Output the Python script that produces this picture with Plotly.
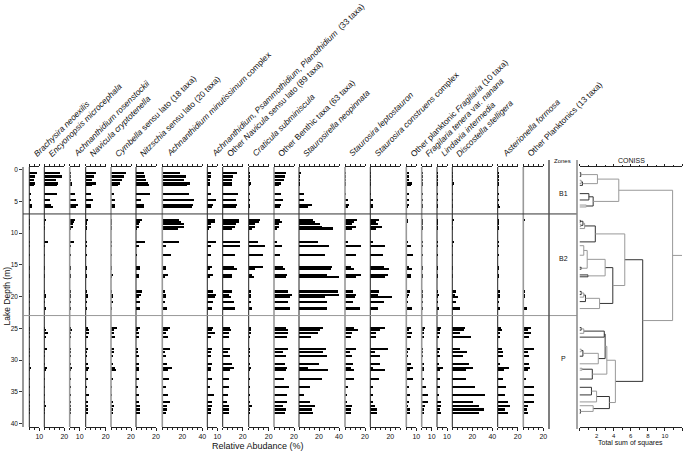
import plotly.graph_objects as go

W, H = 685, 452

# sample depths (m)
depths = [0.5, 1.1, 1.7, 2.2, 2.5, 3.8, 4.8, 5.6, 5.9,
          8.0, 8.3, 8.6, 9.0, 9.3, 11.4, 12.0, 13.5, 15.4, 15.7, 16.6, 16.9,
          19.2, 19.7, 20.1, 20.8, 21.9,
          24.9, 25.3, 25.8, 26.4, 28.3, 28.7, 29.4, 30.6, 31.3, 31.6, 33.0,
          34.3, 35.5, 36.6, 37.2, 37.8, 38.4]

# relative abundance (%) per taxon, same order as depths
brachysira = [8, 6, 4.5, 5.5, 5, 2, 1.5, 3, 2.5,
              0.5, 0.3, 0.3, 0.3, 0.3, 1, 0.3, 0.3, 0.3, 0.3, 0.3, 0.3, 0.5, 0.8, 0.5, 0.3, 0.5,
              0.5, 0.8, 0.3, 0.5, 0.3, 0.3, 0.3, 0.5, 1.5, 0.8, 0.3, 0.3, 0.3, 0.3, 0.3, 0.3, 0.8]
encyonopsis = [15.5, 18, 12, 14, 13, 12.5, 5.5, 7, 9,
               1.5, 1, 0.5, 1, 0.5, 3.5, 0.5, 0.5, 0.5, 0.5, 0.5, 0.5, 1, 2, 2, 1, 2,
               1, 2, 3.5, 1.5, 3, 1, 1, 1, 2.5, 1.5, 1, 1, 1, 1, 1.5, 1, 1]
ach_rosen = [1, 0.5, 0.5, 2, 1.5, 5, 6, 7.5, 6,
             5, 4, 3, 3, 1, 4, 1, 0.5, 0.8, 0.5, 0.5, 0.5, 0.5, 1, 1, 0.5, 0.5,
             1, 1.5, 0.5, 0.5, 0.5, 0.5, 0.5, 0.5, 2, 1, 0.5, 0.5, 0.5, 0.5, 0.5, 0.5, 0.5]
nav_crypto = [9.5, 7.5, 6, 10, 6, 5, 7, 5, 4.5,
              1.7, 1, 0.5, 0.5, 0.3, 1, 0.5, 0.3, 1, 0.5, 0.5, 0.5, 1, 1.5, 2.3, 1, 1,
              1.5, 2.7, 3, 1.5, 1.5, 1, 1, 1.5, 3, 2, 1.5, 1, 2.5, 1.5, 1.5, 2, 1.5]
cymbella = [15, 13, 11, 8.5, 7, 3, 4.3, 4.3, 3.5,
            1, 0.5, 1, 0.5, 0.3, 0.5, 0.3, 0.3, 1, 0.5, 1.5, 1, 1, 2, 2, 1.5, 1,
            5.5, 3, 3, 4, 3, 2.5, 2, 2, 4, 4.5, 2.3, 1, 1, 2.3, 3, 2.3, 2.3]
nitzschia = [7.5, 8.5, 9.5, 12, 12.5, 14, 5, 7.5, 8,
             5.7, 4, 3, 3.3, 1, 9, 2.7, 1, 4, 4, 3.3, 2.5, 5.7, 5, 3.3, 4, 4,
             4, 2.3, 3, 3.3, 2.3, 2, 3, 3, 3.3, 2.5, 3.3, 2.3, 3.3, 3.3, 4, 4, 4]
ach_minut = [17.7, 23.7, 22, 28, 25, 26.7, 32, 31, 30,
             17, 19.3, 22, 22, 16, 16.7, 4.3, 8.7, 3.7, 3.7, 6, 2.7, 2.7, 4.3, 4.3, 2.7, 5.3,
             7.7, 6, 4.3, 6, 7.7, 3, 4.3, 5.3, 10.3, 6, 7, 3.7, 6, 7.7, 5.3, 5, 3.7]
ach_psammo = [3.5, 4, 3, 3, 2.5, 4.3, 8.5, 5.5, 4.5,
              8.3, 7.5, 4.3, 3.7, 2, 9.3, 4.3, 4.3, 5, 2.7, 6, 2.7, 6, 9.3, 7.7, 6, 5,
              6, 4.5, 7.5, 4, 5, 3.5, 4.3, 4.5, 4, 4, 5, 2.7, 6.7, 4.5, 4.5, 4, 4]
other_navicula = [14, 10, 8.5, 9, 8.5, 15, 13, 14, 13,
                  16.3, 15.7, 13.3, 11.7, 9, 17.3, 17.3, 12.3, 10.7, 14, 9, 9, 9, 6.3, 8.3, 11, 11.7,
                  7.3, 8.3, 6.3, 6, 7.3, 5, 7.3, 9, 11.3, 7.3, 6.3, 5.7, 5, 4, 5.7, 6.3, 6.3]
craticula = [0.3, 0.3, 0.3, 2.3, 0.3, 0.5, 0.3, 0.3, 0.5,
             11.3, 10.3, 6.3, 6, 3, 8.7, 16.3, 14, 14, 6.3, 3, 4.5, 2.3, 1.5, 1.7, 1.3, 3,
             1.3, 2, 1.3, 0.8, 0.7, 0.5, 0.5, 0.5, 2, 1, 0.5, 0.5, 0.5, 0.5, 3, 0.5, 0.5]
other_benthic = [12, 10.5, 10, 7, 5, 7, 9.3, 7, 6,
                 6, 7.7, 5, 4.5, 3, 2.7, 7.7, 6, 9.3, 11, 12.7, 11.7, 13.7, 17.7, 16, 14.3, 16,
                 12, 13.7, 14.3, 13, 14.3, 9, 12, 11, 13.3, 12, 10.3, 15.3, 13.3, 13.3, 9.3, 11.7, 11]
staurosirella = [2, 1, 0.7, 1, 0.7, 5.3, 5.3, 12.7, 9.3,
                 14, 16, 21, 23, 34, 19.3, 30, 26, 32.7, 32, 28, 40, 39.3, 40, 26, 27.7, 28.3,
                 24, 21, 19, 11.7, 27, 24, 28, 20, 9.3, 29, 22.7, 11, 5.3, 11, 15.5, 12.5, 13.5]
s_leptostauron = [0.3, 0.3, 0.3, 0.3, 0.3, 1, 3.3, 4, 3,
                  11.7, 9.3, 6.7, 11, 7.3, 3.3, 16, 10.7, 6, 9.3, 16, 11, 7.7, 11, 10, 8.3, 15,
                  9, 13, 6.7, 6, 11, 5, 6.7, 7.7, 6, 9, 8.7, 3.3, 1.3, 2.3, 6.7, 6, 6]
s_construens = [0.5, 0.5, 0.5, 1, 0.5, 1, 2.7, 3.3, 2.5,
                8.7, 6, 7.7, 11.7, 6, 2.7, 15, 13.3, 14.3, 19.3, 18.3, 15, 9.3, 7.7, 22, 13.7, 7.7,
                15, 10.3, 6, 6, 17.7, 5.3, 10.3, 10.3, 3.3, 15, 9.3, 3.3, 3.3, 3.3, 5, 7, 7]
other_fragilaria = [2.5, 3, 2.5, 6, 4.5, 2.5, 3, 2.5, 2,
                    1.7, 1.3, 0.8, 0.8, 0.5, 1.7, 5, 7.3, 3.3, 6, 5, 4.5, 4.3, 3.3, 2.3, 2.3, 6,
                    5, 3.3, 6, 5, 4, 2.3, 1.7, 5, 6.7, 4.3, 7.3, 3.3, 4, 3.3, 2.3, 4, 4]
f_tenera = [0.3, 0.3, 0.3, 0.3, 0.3, 0.3, 0.3, 0.3, 0.3,
            0.2, 0.2, 0.2, 0.2, 0.2, 0.2, 0.2, 0.2, 0.2, 0.2, 0.3, 0.8, 0.3, 0.3, 0.3, 0.3, 0.5,
            3.3, 1.5, 1.7, 1.5, 1, 0.8, 1, 1.7, 1.3, 1.5, 2, 3.5, 5.7, 6, 2.5, 1.5, 1.7]
lindavia = [0.3, 0.3, 0.3, 0.3, 0.3, 0.3, 0.3, 0.3, 0.3,
            0.2, 0.2, 0.2, 0.2, 0.2, 0.2, 0.2, 0.2, 0.5, 0.2, 0.2, 0.2, 1, 1.5, 1, 0.5, 2,
            4.3, 3.3, 3.3, 2, 3.3, 1.5, 2.7, 1.7, 6, 3.3, 3.3, 2.7, 1.7, 4.3, 4.3, 3.3, 4.3]
discostella = [0.7, 0.3, 0.3, 1.3, 0.7, 0.3, 0.3, 0.7, 0.3,
               2, 0.7, 0.3, 0.3, 0.3, 2, 0.7, 0.3, 1, 0.3, 0.3, 0.3, 4.3, 3.3, 6, 4.3, 8.3,
               12.7, 11.7, 7.7, 18.7, 8.3, 15.3, 11, 16.7, 21, 14.3, 13.7, 22.7, 32.7, 21, 26.7, 31.7, 26.7]
asterionella = [0.3, 0.3, 0.3, 0.3, 0.3, 0.3, 0.3, 0.3, 1.3,
                0.3, 0.3, 0.3, 0.3, 0.3, 0.3, 0.3, 0.3, 0.3, 0.3, 0.5, 0.3, 1.7, 1.3, 1.7, 1, 2.3,
                3.3, 4, 2.3, 2, 4, 5, 4.7, 1.3, 10.7, 5.7, 4.7, 8.3, 6.7, 10, 12.3, 7.3, 9.7]
other_planktonics = [0.2, 0.2, 0.2, 0.2, 0.2, 0.2, 0.2, 0.2, 0.7,
                     2.3, 0.2, 0.2, 0.2, 0.2, 0.2, 0.2, 0.2, 0.2, 0.2, 0.2, 0.2, 1.7, 2.3, 1.7, 1, 4.3,
                     8.3, 5, 7.7, 6, 10.7, 5, 6, 6, 6.7, 5, 2.7, 10.7, 11, 11, 5, 4, 5]

taxa_names = [
    "<i>Brachysira neoexilis</i>",
    "<i>Encyonopsis microcephala</i>",
    "<i>Achnanthidium rosenstockii</i>",
    "<i>Navicula cryptotenella</i>",
    "<i>Cymbella</i> sensu lato (18 taxa)",
    "<i>Nitzschia</i> sensu lato (20 taxa)",
    "<i>Achnanthidium minutissimum</i> complex",
    "<i>Achnanthidium, Psammothidium, Planothidium</i>  (33 taxa)",
    "Other <i>Navicula</i> sensu lato (89 taxa)",
    "<i>Craticula subminiscula</i>",
    "Other Benthic taxa (63 taxa)",
    "<i>Staurosirella neopinnata</i>",
    "<i>Staurosira leptostauron</i>",
    "<i>Staurosira construens</i> complex",
    "Other planktonic <i>Fragilaria</i> (10 taxa)",
    "<i>Fragilaria tenera</i> var. <i>nanana</i>",
    "<i>Lindavia intermedia</i>",
    "<i>Discostella stelligera</i>",
    "<i>Asterionella formosa</i>",
    "Other Planktonics (13 taxa)",
]
taxa_values = [brachysira, encyonopsis, ach_rosen, nav_crypto, cymbella, nitzschia,
               ach_minut, ach_psammo, other_navicula, craticula, other_benthic,
               staurosirella, s_leptostauron, s_construens, other_fragilaria,
               f_tenera, lindavia, discostella, asterionella, other_planktonics]
axis_max = [10, 20, 10, 20, 20, 20, 40, 10, 20, 20, 20, 40, 20, 30, 10, 10, 10, 40, 20, 20]

# zones
zone_bounds = [7.0, 23.0]
zone_labels = ["B1", "B2", "P"]
zone_label_depths = [3.75, 13.95, 29.8]

# CONISS (constrained clustering) merges: leaves 0..n-1, new clusters n, n+1, ...
merge_left = [0, 2, 44, 43, 5, 7, 47, 46,
              9, 11, 51, 53, 54,
              15, 17, 56, 19, 58,
              21, 61, 62, 63, 60, 55,
              26, 67, 68, 30, 70, 71, 69, 34, 74, 73,
              37, 77, 41, 40, 78, 76, 66, 50]
merge_right = [1, 3, 4, 45, 6, 8, 48, 49,
               10, 12, 52, 13, 14,
               16, 18, 57, 20, 59,
               22, 23, 24, 25, 64, 65,
               27, 28, 29, 31, 32, 33, 72, 35, 36, 75,
               38, 39, 42, 79, 80, 81, 82, 83]
merge_height = [0.15, 0.2, 0.35, 2.1, 1.1, 0.8, 1.6, 4.6,
                0.1, 0.15, 0.4, 0.6, 1.85,
                0.5, 0.2, 0.9, 1.0, 3.0,
                0.2, 0.5, 0.7, 2.35, 3.9, 5.3,
                0.2, 0.5, 2.9, 0.2, 0.4, 2.2, 3.0, 0.3, 1.5, 3.2,
                1.4, 2.0, 0.1, 1.6, 3.5, 4.2, 7.4, 10.9]

# ---- layout geometry (pixels) ----
baselines = [29.3, 44.3, 69.7, 85.7, 111.0, 136.0, 162.3, 207.3, 222.7, 248.7,
             274.0, 299.0, 345.0, 370.3, 406.3, 421.7, 437.0, 452.3, 497.7, 523.3]
base_colors = ["#222", "#222", "#999", "#222", "#999", "#222", "#999", "#222", "#222", "#222",
               "#999", "#222", "#999", "#222", "#999", "#999", "#222", "#222", "#222", "#999"]
PX_PER_PCT = 1.0
Y_TOP, Y_BOT = 167.0, 427.0
D0_PX, M_PX = 169.5, 6.35
FONT = "Liberation Sans, Arial, sans-serif"
INK = "#111"


def fx(p):
    return p / W


def fy(p):
    return 1 - p / H


depth_top = (Y_TOP - D0_PX) / M_PX
depth_bot = (Y_BOT - D0_PX) / M_PX

fig = go.Figure()
layout = dict(
    template="none",
    width=W, height=H, margin=dict(l=0, r=0, t=0, b=0, pad=0), autosize=False,
    plot_bgcolor="white", paper_bgcolor="white", showlegend=False,
    font=dict(family=FONT, color=INK, size=7),
    yaxis=dict(domain=[fy(Y_BOT), fy(Y_TOP)], range=[depth_bot, depth_top],
               anchor="free", position=fx(23), showline=True, linecolor="#999",
               linewidth=1.5, ticks="outside", ticklen=3, tickcolor="#333",
               tickvals=list(range(0, 41, 5)), tickfont=dict(size=6.5, color=INK),
               showgrid=False, zeroline=False, automargin=False),
)
shapes = []
annotations = []

for i, (name, vals, amax, x0) in enumerate(zip(taxa_names, taxa_values, axis_max, baselines)):
    k = i + 1
    xa = "x" if k == 1 else f"x{k}"
    lab = [v for v in (10, 20, 40) if v <= amax and (v == amax or v % 20 == 0)]
    fig.add_trace(go.Bar(x=vals, y=depths, orientation="h", width=0.34,
                         marker=dict(color="black", line=dict(width=0)),
                         xaxis=xa, yaxis="y", hoverinfo="x+y"))
    layout["xaxis" if k == 1 else f"xaxis{k}"] = dict(
        domain=[fx(x0), fx(x0 + amax * PX_PER_PCT)], range=[0, amax], anchor="y",
        showline=True, linecolor="#222", linewidth=1, mirror="allticks",
        ticks="outside", ticklen=2.5, tickcolor="#222", tickvals=lab,
        tickfont=dict(size=7, color=INK), showgrid=False, zeroline=False, automargin=False,
        minor=dict(tick0=0, dtick=5, ticks="outside", ticklen=2, tickcolor="#222", showgrid=False),
    )
    shapes.append(dict(type="line", xref=f"{xa} domain", yref="paper", x0=0, x1=0,
                       y0=fy(Y_BOT), y1=fy(Y_TOP),
                       line=dict(color=base_colors[i], width=1.6 if base_colors[i] == "#999" else 1)))
    annotations.append(dict(text=name, xref="paper", yref="paper", x=fx(x0 - 1), y=fy(161.5),
                            xanchor="left", yanchor="bottom", textangle=-45, showarrow=False,
                            font=dict(size=8.4, family=FONT, color=INK)))

# CONISS dendrogram
n = len(depths)
pos = {j: (0.0, d) for j, d in enumerate(depths)}
dark_x, dark_y, gray_x, gray_y = [], [], [], []
for m, (a, b, h) in enumerate(zip(merge_left, merge_right, merge_height)):
    ha, ya = pos[a]
    hb, yb = pos[b]
    tx, ty = (dark_x, dark_y) if m % 2 == 0 else (gray_x, gray_y)
    tx += [ha, h, h, hb, None]
    ty += [ya, ya, yb, yb, None]
    pos[n + m] = (h, (ya + yb) / 2)
root_h, root_y = pos[n + len(merge_left) - 1]
coniss_max = 12
gray_x += [root_h, coniss_max, None]
gray_y += [root_y, root_y, None]

fig.add_trace(go.Scatter(x=dark_x, y=dark_y, mode="lines", line=dict(color="#333", width=1),
                         xaxis="x21", yaxis="y", hoverinfo="skip"))
fig.add_trace(go.Scatter(x=gray_x, y=gray_y, mode="lines", line=dict(color="#999", width=1),
                         xaxis="x21", yaxis="y", hoverinfo="skip"))
layout["xaxis21"] = dict(
    domain=[fx(579.5), fx(682)], range=[0, coniss_max], anchor="y",
    showline=True, linecolor="#222", linewidth=1, mirror="allticks",
    ticks="outside", ticklen=2.5, tickcolor="#222",
    tickvals=list(range(0, coniss_max + 1, 2)),
    ticktext=[""] + [str(v) for v in range(2, coniss_max + 1, 2)],
    tickfont=dict(size=6, color=INK), showgrid=False, zeroline=False, automargin=False,
    minor=dict(dtick=1, ticks="outside", ticklen=1.5, tickcolor="#222", showgrid=False),
)

# zone boundaries and zone column
for zb, col in zip(zone_bounds, ["#333", "#999"]):
    shapes.append(dict(type="line", xref="paper", yref="y", x0=fx(23), x1=fx(577),
                       y0=zb, y1=zb, line=dict(color=col, width=1)))
for xp, col in [(549, "#555"), (577, "#888")]:
    shapes.append(dict(type="line", xref="paper", yref="paper", x0=fx(xp), x1=fx(xp),
                       y0=fy(429), y1=fy(160), line=dict(color=col, width=1.5)))
for zl, zd in zip(zone_labels, zone_label_depths):
    annotations.append(dict(text=zl, xref="paper", yref="y", x=fx(563.5), y=zd,
                            xanchor="center", yanchor="middle",
                            showarrow=False, font=dict(size=7, color=INK)))


def label(text, xp, yp, size, angle=0):
    return dict(text=text, xref="paper", yref="paper", x=fx(xp), y=fy(yp),
                xanchor="center", yanchor="middle", textangle=angle,
                showarrow=False, font=dict(size=size, color=INK))


annotations += [
    label("Zones", 562, 161, 6),
    label("CONISS", 631, 160, 7),
    label("Total sum of squares", 630, 443, 7),
    label("Relative Abudance (%)", 258, 446, 9),
    label("Lake Depth (m)", 6, 296.5, 8.5, -90),
]

layout["shapes"] = shapes
layout["annotations"] = annotations
layout["bargap"] = 0
fig.update_layout(**layout)
# the page body has a default margin; drop it so the figure fills the window
fig.write_html("out.html", config={"displayModeBar": False},
               post_script="document.body.style.margin='0px';")
